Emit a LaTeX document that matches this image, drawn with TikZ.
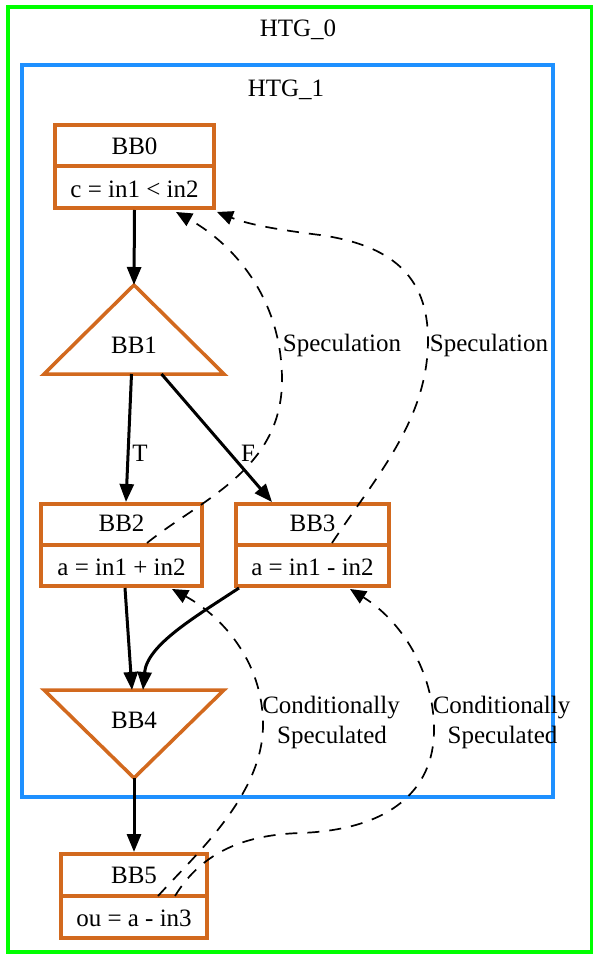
\documentclass[tikz,border=0pt]{standalone}
\usepackage{fontspec}
\setmainfont{Liberation Serif}
\usetikzlibrary{arrows.meta}
\definecolor{htgzero}{HTML}{00FF00}
\definecolor{htgone}{HTML}{1E90FF}
\definecolor{bbline}{HTML}{D2691E}
\begin{document}
\begin{tikzpicture}[x=1pt,y=-1pt,
  font=\fontsize{25}{30}\selectfont,
  bbbox/.style={draw=bbline, line width=4pt, inner sep=0pt, fill=white},
  bbdiv/.style={draw=bbline, line width=4pt},
  bbtri/.style={draw=bbline, line width=3.5pt, fill=white},
  txt/.style={anchor=base, inner sep=0pt},
  flow/.style={line width=3pt, -{Triangle[length=18pt,width=14pt]}},
  spec/.style={line width=1.7pt, dash pattern=on 12pt off 10pt,
               -{Triangle[length=16pt,width=14pt]}},
  cluster/.style={line width=4pt}]
\useasboundingbox (0,0) rectangle (593,957);

% clusters
\draw[cluster, htgzero] (7.7,6.7) rectangle (591.5,952);
\node[txt] (htg0) at (298,37) {HTG\_0};
\draw[cluster, htgone] (22.3,65) rectangle (552.5,797);
\node[txt] (htg1) at (286,97) {HTG\_1};

% basic blocks drawn as record boxes
\node[bbbox, minimum width=159pt, minimum height=83pt] (bb0) at (134.5,166.5) {};
\draw[bbdiv] (bb0.west) -- (bb0.east);
\node[txt] (bb0h) at (134.5,155) {BB0};
\node[txt] (bb0b) at (134.5,198) {c = in1 < in2};

\node[bbbox, minimum width=161pt, minimum height=82pt] (bb2) at (121.5,545) {};
\draw[bbdiv] (bb2.west) -- (bb2.east);
\node[txt] (bb2h) at (121.5,531.5) {BB2};
\node[txt] (bb2b) at (121.5,575.5) {a = in1 + in2};

\node[bbbox, minimum width=153pt, minimum height=82pt] (bb3) at (312.5,545) {};
\draw[bbdiv] (bb3.west) -- (bb3.east);
\node[txt] (bb3h) at (312.5,531.5) {BB3};
\node[txt] (bb3b) at (312.5,575.5) {a = in1 - in2};

\node[bbbox, minimum width=146pt, minimum height=84pt] (bb5) at (134,896) {};
\draw[bbdiv] (bb5.west) -- (bb5.east);
\node[txt] (bb5h) at (134,883) {BB5};
\node[txt] (bb5b) at (134,926.5) {ou = a - in3};

% branch and merge blocks
\coordinate (bb1apex) at (134,285);
\coordinate (bb1l) at (44,374);
\coordinate (bb1r) at (224,374);
\draw[bbtri] (bb1apex) -- (bb1r) -- (bb1l) -- cycle;
\node[txt] (bb1) at (134,353) {BB1};

\coordinate (bb4apex) at (134,778);
\coordinate (bb4l) at (44,690);
\coordinate (bb4r) at (224,690);
\draw[bbtri] (bb4apex) -- (bb4r) -- (bb4l) -- cycle;
\node[txt] (bb4) at (134,728) {BB4};

% ports
\coordinate (bb1t) at (131.5,374);
\coordinate (bb1f) at (161.5,374);
\coordinate (bb2in) at (126,502);
\coordinate (bb3in) at (272,502);
\coordinate (bb2out) at (125,588);
\coordinate (bb3out) at (239,588);
\coordinate (bb4in2) at (132,690);
\coordinate (bb4in3) at (143,690);
\coordinate (bb5in) at (134,852);
\coordinate (bb2spec) at (147,543);
\coordinate (bb3spec) at (332,543);
\coordinate (bb0specA) at (176,212);
\coordinate (bb0specB) at (217,212);
\coordinate (bb5csA) at (158,896);
\coordinate (bb5csB) at (175,896);
\coordinate (bb2cs) at (172,589);
\coordinate (bb3cs) at (350,589);

% control flow
\draw[flow] (bb0.south) -- (bb1apex);
\draw[flow] (bb1t) -- (bb2in);
\node[txt] (lt) at (140,461.5) {T};
\draw[flow] (bb1f) -- (bb3in);
\node[txt] (lf) at (248,461.5) {F};
\draw[flow] (bb2out) -- (bb4in2);
\draw[flow] (bb3out) .. controls (195,617) and (147,645) .. (bb4in3);
\draw[flow] (bb4apex) -- (bb5in);

% speculation edges
\draw[spec] (bb2spec) .. controls (200,500) and (282,470) .. (282,380)
  .. controls (282,300) and (235,245) .. (bb0specA);
\node[txt] (spl) at (342,351.7) {Speculation};
\draw[spec] (bb3spec) .. controls (375,478) and (428,420) .. (428,340)
  .. controls (428,275) and (390,245) .. (320,235)
  .. controls (280,230) and (250,225) .. (bb0specB);
\node[txt] (spr) at (489,351.7) {Speculation};

% conditional speculation edges
\draw[spec] (bb5csA) .. controls (195,855) and (263,795) .. (263,725)
  .. controls (263,660) and (220,615) .. (bb2cs);
\node[txt] (csl1) at (331,713) {Conditionally};
\node[txt] (csl2) at (332,743) {Speculated};
\draw[spec] (bb5csB) .. controls (200,855) and (240,835) .. (300,833)
  .. controls (390,830) and (434,790) .. (434,730)
  .. controls (434,670) and (400,620) .. (bb3cs);
\node[txt] (csr1) at (501.5,713) {Conditionally};
\node[txt] (csr2) at (502.5,743) {Speculated};
\end{tikzpicture}
\end{document}
